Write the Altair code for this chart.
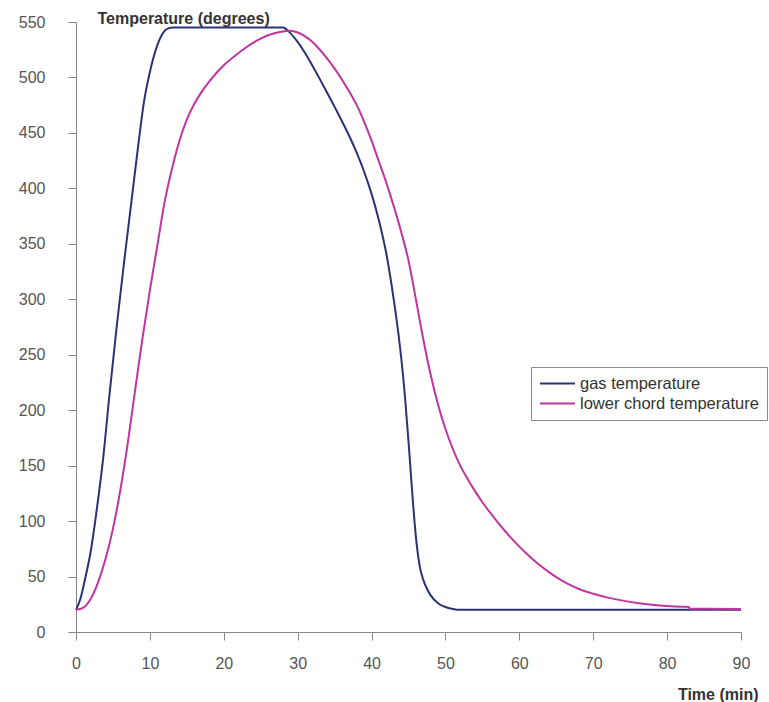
import altair as alt
import pandas as pd

# gas temperature (time in minutes, temperature in degrees)
gas_time = [0, 0.6, 1.3, 2.0, 2.6, 3.1, 3.6, 4.5, 5.5, 6.5, 7.5, 8.5, 9.2, 10.0,
            10.8, 11.6, 12.4, 13.2, 28.0, 29.0, 30.0, 31.0, 32.0, 33.0, 34.0, 35.0,
            36.0, 37.0, 38.0, 39.0, 40.0, 41.0, 42.0, 43.0, 43.5, 44.0, 44.5, 45.0,
            45.5, 46.0, 46.5, 47.0, 47.5, 48.0, 49.0, 50.0, 51.0, 52.0, 90]
gas_temp = [20, 30, 50, 73, 100, 125, 152, 212, 275, 333, 388, 443, 478, 505,
            525, 538, 544, 545, 545, 540, 532, 522, 510.5, 498.5, 486, 473.5,
            460.5, 447, 432, 415, 395, 371, 341, 300, 276, 248, 214, 172,
            126, 86, 60, 47, 39, 33, 26, 22.5, 20.8, 20, 20]

# lower chord temperature
chord_time = [0, 1, 2, 3, 4, 5, 6, 7, 8, 9, 10, 11, 12, 13, 14, 15, 16, 17, 18,
              19, 20, 22, 23, 24, 25, 26, 27, 28, 29, 30, 31, 32, 33, 34, 35, 36,
              37, 38, 39, 40, 41, 42, 43, 44, 45, 46, 47, 48, 49, 50, 51, 52, 53,
              54, 55, 56, 57, 58, 59, 60, 61, 62, 63, 64, 65, 66, 67, 68, 69, 70,
              72, 74, 76, 78, 80, 82, 82.9, 83.1, 90]
chord_temp = [20, 22, 30, 45, 66, 93, 128, 170, 218, 265, 308, 348, 388, 418,
              443, 462, 476, 487, 496, 504, 511, 522, 527, 531.5, 535, 538, 540,
              541.5, 542, 540.5, 537, 532, 525, 517, 508, 498, 487, 475, 460,
              443, 424, 405, 384, 361, 335, 300, 264, 232, 205, 183, 165, 150,
              138, 127, 117, 108, 99.5, 91.5, 84, 77, 70.5, 64.5, 59, 54, 49.5,
              45.5, 42, 39, 36.5, 34.5, 31, 28.3, 26.2, 24.6, 23.5, 22.8, 22.6,
              21, 20.8]

series_names = ["gas temperature", "lower chord temperature"]
series_colors = ["#2b3275", "#c0359f"]
x_ticks = list(range(0, 91, 10))
y_ticks = list(range(0, 551, 50))

df = pd.concat([
    pd.DataFrame({"time": gas_time, "temp": gas_temp, "series": series_names[0], "order": range(len(gas_time))}),
    pd.DataFrame({"time": chord_time, "temp": chord_temp, "series": series_names[1], "order": range(len(chord_time))}),
])

FONT = "Liberation Sans"

chart = alt.Chart(df).mark_line(strokeWidth=2, interpolate="monotone").encode(
    x=alt.X("time:Q",
            scale=alt.Scale(domain=[0, 90], nice=False),
            axis=alt.Axis(values=x_ticks, title="Time (min)", titleAlign="right",
                          titleBaseline="alphabetic", titleX=682, titleY=67,
                          labelPadding=15, tickSize=8, labelFlush=False)),
    y=alt.Y("temp:Q",
            scale=alt.Scale(domain=[0, 550], nice=False),
            axis=alt.Axis(values=y_ticks, title="Temperature (degrees)", titleAngle=0,
                          titleAlign="left", titleBaseline="alphabetic",
                          titleX=21, titleY=1.5, labelPadding=23, tickSize=8,
                          labelFlush=False)),
    color=alt.Color("series:N",
                    scale=alt.Scale(domain=series_names, range=series_colors),
                    legend=alt.Legend(title=None, orient="none", legendX=455, legendY=345,
                                      symbolType="stroke", symbolSize=1225,
                                      symbolStrokeWidth=2, clipHeight=17, rowPadding=3,
                                      padding=8, labelOffset=4, labelFontSize=16.5,
                                      labelLimit=400,
                                      labelFont=FONT, labelColor="#333333",
                                      strokeColor="#8a8a8a", fillColor="white")),
    order="order:Q",
).properties(
    width=665,
    height=610,
    autosize=alt.AutoSizeParams(type="none"),
    padding={"left": 76, "top": 22, "right": 28, "bottom": 70},
    background="white",
).configure_axis(
    grid=False,
    domainColor="#868686",
    tickColor="#868686",
    labelFont=FONT,
    labelFontSize=16,
    labelColor="#555555",
    titleFont=FONT,
    titleFontSize=16,
    titleFontWeight="bold",
    titleColor="#333333",
).configure_view(stroke="transparent")

chart.save("out.html", embed_options={"renderer": "svg", "actions": False})
